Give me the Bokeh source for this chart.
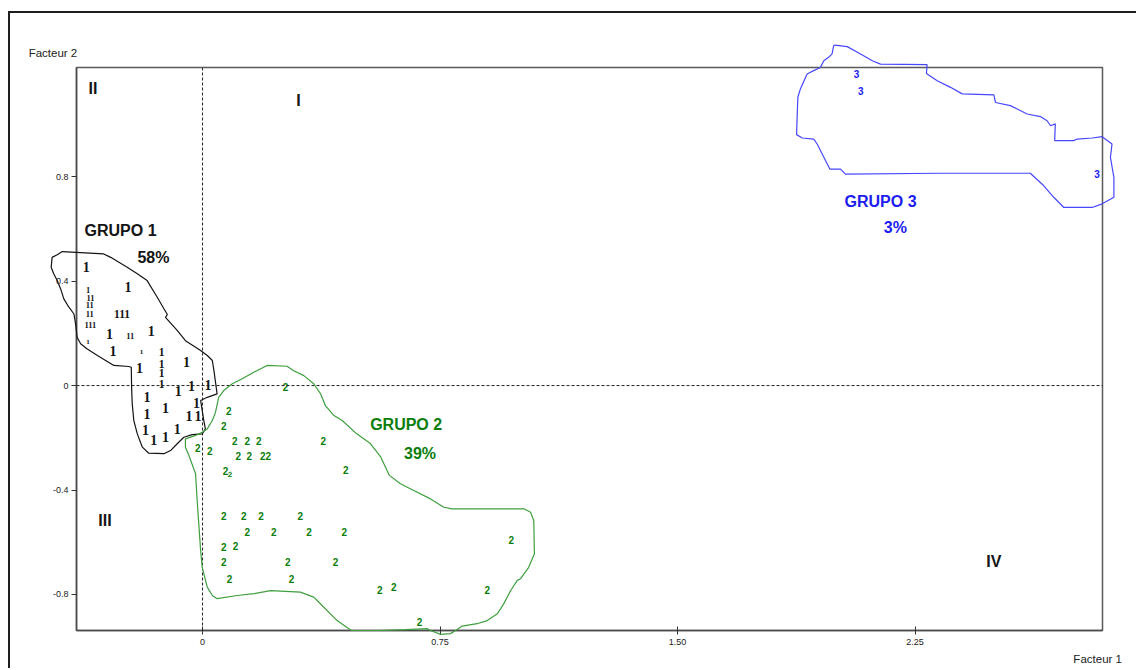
from bokeh.plotting import figure
from bokeh.models import (Range1d, FixedTicker, Span, ColumnDataSource, InlineStyleSheet,
                          GlobalInlineStyleSheet)
from bokeh.core.properties import value
from bokeh.embed import file_html
from bokeh.resources import INLINE

# ---- axes -------------------------------------------------------------
x_ticks = [0, 0.75, 1.5, 2.25]
x_tick_labels = ["0", "0.75", "1.50", "2.25"]
y_ticks = [-0.8, -0.4, 0, 0.4, 0.8]
y_tick_labels = ["-0.8", "-0.4", "0", "0.4", "0.8"]
x_title = "Facteur 1"
y_title = "Facteur 2"

# ---- group 1 : individuals (factor 1, factor 2) -------------------------
g1_x = [-0.367, -0.235, -0.361, -0.354, -0.356, -0.356, -0.354, -0.362, -0.254, -0.294,
        -0.228, -0.162, -0.283, -0.193, -0.129, -0.129, -0.129, -0.129, -0.051, -0.199,
        -0.077, -0.035, 0.017, -0.175, -0.117, -0.019, -0.175, -0.043, -0.014, -0.180,
        -0.154, -0.117, -0.080]
g1_y = [0.455, 0.376, 0.366, 0.336, 0.309, 0.274, 0.230, 0.166, 0.274, 0.198,
        0.189, 0.208, 0.134, 0.127, 0.130, 0.083, 0.047, 0.007, 0.089, 0.066,
        -0.019, 0.000, 0.004, -0.045, -0.085, -0.066, -0.108, -0.118, -0.118, -0.172,
        -0.207, -0.198, -0.166]
g1_text = ["1", "1", "1", "11", "11", "11", "111", "1", "111", "1",
           "11", "1", "1", "1", "1", "1", "1", "1", "1", "1",
           "1", "1", "1", "1", "1", "1", "1", "1", "1", "1",
           "1", "1", "1"]

# group 1 hull
g1_hull_x = [-0.443, -0.312, -0.290, -0.238, -0.206, -0.175, -0.143, -0.122, -0.111, -0.117,
             -0.080, -0.054, -0.006, 0.015, 0.031, 0.036, 0.046, 0.015, -0.006, -0.001,
             0.004, 0.009, -0.001, -0.033, -0.059, -0.080, -0.101, -0.122, -0.170, -0.190,
             -0.206, -0.217, -0.222, -0.224, -0.225, -0.233, -0.280, -0.306, -0.332, -0.364,
             -0.385, -0.396, -0.401, -0.406, -0.422, -0.438, -0.448, -0.459, -0.470, -0.478,
             -0.475, -0.459]
g1_hull_y = [0.513, 0.504, 0.491, 0.453, 0.428, 0.402, 0.338, 0.294, 0.272, 0.261,
             0.211, 0.172, 0.134, 0.115, 0.096, 0.057, -0.032, -0.045, -0.057, -0.096,
             -0.134, -0.166, -0.185, -0.188, -0.198, -0.223, -0.249, -0.261, -0.259, -0.236,
             -0.185, -0.134, -0.070, -0.007, 0.070, 0.073, 0.077, 0.096, 0.115, 0.140,
             0.160, 0.185, 0.236, 0.274, 0.300, 0.332, 0.370, 0.402, 0.428, 0.453,
             0.491, 0.501]

# ---- group 2 ---------------------------------------------------------------
g2_x = [0.262, 0.083, 0.067, 0.102, 0.141, 0.178, 0.381, -0.015, 0.023, 0.113,
        0.148, 0.199, 0.452, 0.073, 0.087, 0.067, 0.130, 0.185, 0.309, 0.141,
        0.225, 0.336, 0.448, 0.975, 0.067, 0.104, 0.067, 0.269, 0.420, 0.085,
        0.281, 0.560, 0.604, 0.899, 0.685]
g2_y = [-0.007, -0.096, -0.153, -0.211, -0.211, -0.211, -0.211, -0.238, -0.249, -0.268,
        -0.268, -0.268, -0.325, -0.329, -0.339, -0.498, -0.498, -0.498, -0.498, -0.562,
        -0.562, -0.562, -0.562, -0.593, -0.619, -0.616, -0.674, -0.674, -0.674, -0.740,
        -0.740, -0.782, -0.772, -0.782, -0.906]
g2_text = ["2", "2", "2", "2", "2", "2", "2", "2", "2", "2",
           "2", "22", "2", "2", "2", "2", "2", "2", "2", "2",
           "2", "2", "2", "2", "2", "2", "2", "2", "2", "2",
           "2", "2", "2", "2", "2"]

g2_hull_x = [0.204, 0.267, 0.288, 0.320, 0.351, 0.373, 0.388, 0.415, 0.441, 0.486,
             0.530, 0.562, 0.590, 0.625, 0.667, 0.720, 0.762, 0.788, 1.015, 1.036,
             1.046, 1.048, 1.030, 1.004, 0.994, 0.973, 0.951, 0.931, 0.899, 0.867,
             0.820, 0.799, 0.783, 0.752, 0.720, 0.710, 0.641, 0.562, 0.470, 0.425,
             0.362, 0.351, 0.309, 0.215, 0.162, 0.110, 0.046, 0.031, 0.015, -0.001,
             -0.006, -0.017, -0.022, -0.043, -0.054, -0.054, -0.022, -0.001, 0.015, 0.031,
             0.041, 0.051, 0.067, 0.094, 0.125, 0.162]
g2_hull_y = [0.077, 0.074, 0.057, 0.038, 0.007, -0.032, -0.077, -0.115, -0.134, -0.184,
             -0.222, -0.272, -0.344, -0.376, -0.402, -0.434, -0.466, -0.472, -0.472, -0.485,
             -0.517, -0.644, -0.696, -0.740, -0.746, -0.785, -0.836, -0.874, -0.900, -0.912,
             -0.921, -0.938, -0.950, -0.953, -0.938, -0.931, -0.935, -0.938, -0.938, -0.900,
             -0.823, -0.810, -0.791, -0.785, -0.797, -0.804, -0.816, -0.804, -0.772, -0.696,
             -0.632, -0.440, -0.338, -0.268, -0.236, -0.204, -0.191, -0.179, -0.166, -0.134,
             -0.102, -0.045, -0.019, 0.007, 0.026, 0.051]

# ---- group 3 ---------------------------------------------------------------
g3_x = [2.065, 2.079, 2.825]
g3_y = [1.193, 1.129, 0.810]
g3_text = ["3", "3", "3"]

g3_hull_x = [1.997, 2.036, 2.078, 2.115, 2.141, 2.288, 2.286, 2.320, 2.362, 2.399,
             2.499, 2.504, 2.551, 2.604, 2.646, 2.667, 2.678, 2.693, 2.691, 2.751,
             2.762, 2.809, 2.841, 2.872, 2.867, 2.878, 2.878, 2.841, 2.809, 2.720,
             2.688, 2.656, 2.614, 2.330, 2.030, 2.015, 1.981, 1.962, 1.941, 1.930,
             1.894, 1.876, 1.878, 1.880, 1.888, 1.909, 1.930, 1.951, 1.962, 1.977,
             1.988, 1.993]
g3_hull_y = [1.304, 1.298, 1.270, 1.244, 1.231, 1.229, 1.195, 1.167, 1.142, 1.117,
             1.113, 1.084, 1.072, 1.040, 1.030, 1.014, 0.995, 1.002, 0.938, 0.938,
             0.944, 0.948, 0.953, 0.925, 0.874, 0.797, 0.721, 0.696, 0.682, 0.682,
             0.721, 0.766, 0.813, 0.813, 0.810, 0.829, 0.829, 0.874, 0.925, 0.944,
             0.948, 0.961, 1.040, 1.104, 1.136, 1.193, 1.206, 1.218, 1.244, 1.257,
             1.270, 1.301]

# ---- group captions and quadrant numerals ----------------------------------
group_names = ["GRUPO 1", "GRUPO 2", "GRUPO 3"]
group_shares = ["58%", "39%", "3%"]
group_name_x = [-0.259, 0.643, 2.141]
group_name_y = [0.593, -0.149, 0.704]
group_share_x = [-0.155, 0.687, 2.188]
group_share_y = [0.490, -0.260, 0.605]
quadrants = ["II", "I", "III", "IV"]
quadrant_x = [-0.346, 0.303, -0.308, 2.499]
quadrant_y = [1.137, 1.091, -0.517, -0.674]

BLACK = "#141414"
GREEN = "#0b7d0b"
GREEN_LINE = "#3f9f3f"
BLUE = "#1c1cf0"
BLUE_LINE = "#4747ff"

# the sheet runs a little past the right edge of the page, like a cropped scan
p = figure(width=1134, height=657,
           x_range=Range1d(-0.398, 2.842), y_range=Range1d(-0.938, 1.218),
           output_backend="svg", toolbar_location=None, title=None,
           min_border_left=66, min_border_right=42, min_border_top=54, min_border_bottom=40)
# page frame: a dark rule along the left and top edges of the sheet
p.stylesheets = [
    GlobalInlineStyleSheet(css="html, body { margin: 0; overflow: hidden; }"),
    InlineStyleSheet(css=":host { margin-left: 10px; margin-top: 13px; "
                         "box-shadow: -2px -2px 0 0 #1e1e1e; }"),
]
p.background_fill_color = "white"
p.border_fill_color = "white"
p.outline_line_color = "#5a5a5a"
p.outline_line_width = 1.5
p.xgrid.visible = False
p.ygrid.visible = False

for ax in (p.xaxis[0], p.yaxis[0]):
    ax.axis_line_color = "#4a4a4a"
    ax.axis_line_width = 1.5
    ax.major_tick_line_color = "#333333"
    ax.minor_tick_line_color = None
    ax.major_label_text_font = "Liberation Sans"
    ax.major_label_text_font_size = "9px"
    ax.major_label_text_color = "#222222"

p.xaxis.ticker = FixedTicker(ticks=x_ticks)
p.yaxis.ticker = FixedTicker(ticks=y_ticks)
p.xaxis.major_label_overrides = dict(zip(x_ticks, x_tick_labels))
p.yaxis.major_label_overrides = dict(zip(y_ticks, y_tick_labels))
p.xaxis.major_tick_in = 4
p.xaxis.major_tick_out = 4
p.xaxis.major_label_standoff = 4
p.yaxis.major_tick_in = 0
p.yaxis.major_tick_out = 5
p.yaxis.major_label_standoff = 3

# dotted reference axes through the origin
for dim in ("height", "width"):
    p.add_layout(Span(location=0, dimension=dim, line_color="#222222",
                      line_width=1, line_dash="3 2"))

# group hulls (drawn on the overlay level so they may spill past the frame)
p.patch(g1_hull_x, g1_hull_y, fill_color=None, line_color=BLACK, line_width=1.2, level="overlay")
p.patch(g2_hull_x, g2_hull_y, fill_color=None, line_color=GREEN_LINE, line_width=1.2, level="overlay")
p.patch(g3_hull_x, g3_hull_y, fill_color=None, line_color=BLUE_LINE, line_width=1.2, level="overlay")

# individual markers as group numbers
g1_font = ["14px", "14px", "8.5px", "8.5px", "8.5px", "8.5px", "8.5px", "7px", "11.5px", "14px",
           "8.5px", "14px", "14px", "7px", "11.5px", "11.5px", "11.5px", "11.5px", "14px", "14px",
           "14px", "14px", "14px", "14px", "14px", "14px", "14px", "14px", "14px", "14px",
           "14px", "14px", "14px"]
src1 = ColumnDataSource(dict(x=g1_x, y=g1_y, t=g1_text, fs=g1_font))
p.text(x="x", y="y", text="t", source=src1, text_font=value("Liberation Serif"),
       text_font_style="bold", text_font_size="fs", text_color=BLACK,
       text_align="center", text_baseline="middle")

g2_font = ["10px"] * len(g2_x)
g2_font[14] = "8px"
src2 = ColumnDataSource(dict(x=g2_x, y=g2_y, t=g2_text, fs=g2_font))
p.text(x="x", y="y", text="t", source=src2, text_font=value("Liberation Sans"),
       text_font_style="bold", text_font_size="fs", text_color=GREEN,
       text_align="center", text_baseline="middle")

p.text(x=g3_x, y=g3_y, text=g3_text, text_font=value("Liberation Sans"),
       text_font_style="bold", text_font_size="10px", text_color=BLUE,
       text_align="center", text_baseline="middle")

# captions
cap_colors = [BLACK, GREEN, BLUE]
p.text(x=group_name_x, y=group_name_y, text=group_names, text_font=value("Liberation Sans"),
       text_font_style="bold", text_font_size="16px", text_color=cap_colors,
       text_align="center", text_baseline="middle")
p.text(x=group_share_x, y=group_share_y, text=group_shares, text_font=value("Liberation Sans"),
       text_font_style="bold", text_font_size="16px", text_color=cap_colors,
       text_align="center", text_baseline="middle")
p.text(x=quadrant_x, y=quadrant_y, text=quadrants, text_font=value("Liberation Sans"),
       text_font_style="bold", text_font_size="16px", text_color=BLACK,
       text_align="center", text_baseline="middle")

# axis titles, placed just outside the frame corners
p.text(x=[-0.549, 2.750], y=[1.275, -1.048], text=[y_title, x_title],
       text_font=value("Liberation Sans"), text_font_size="11.5px", text_color="#222222",
       text_align="left", text_baseline="middle", level="overlay")

open("out.html", "w").write(file_html(p, INLINE))
